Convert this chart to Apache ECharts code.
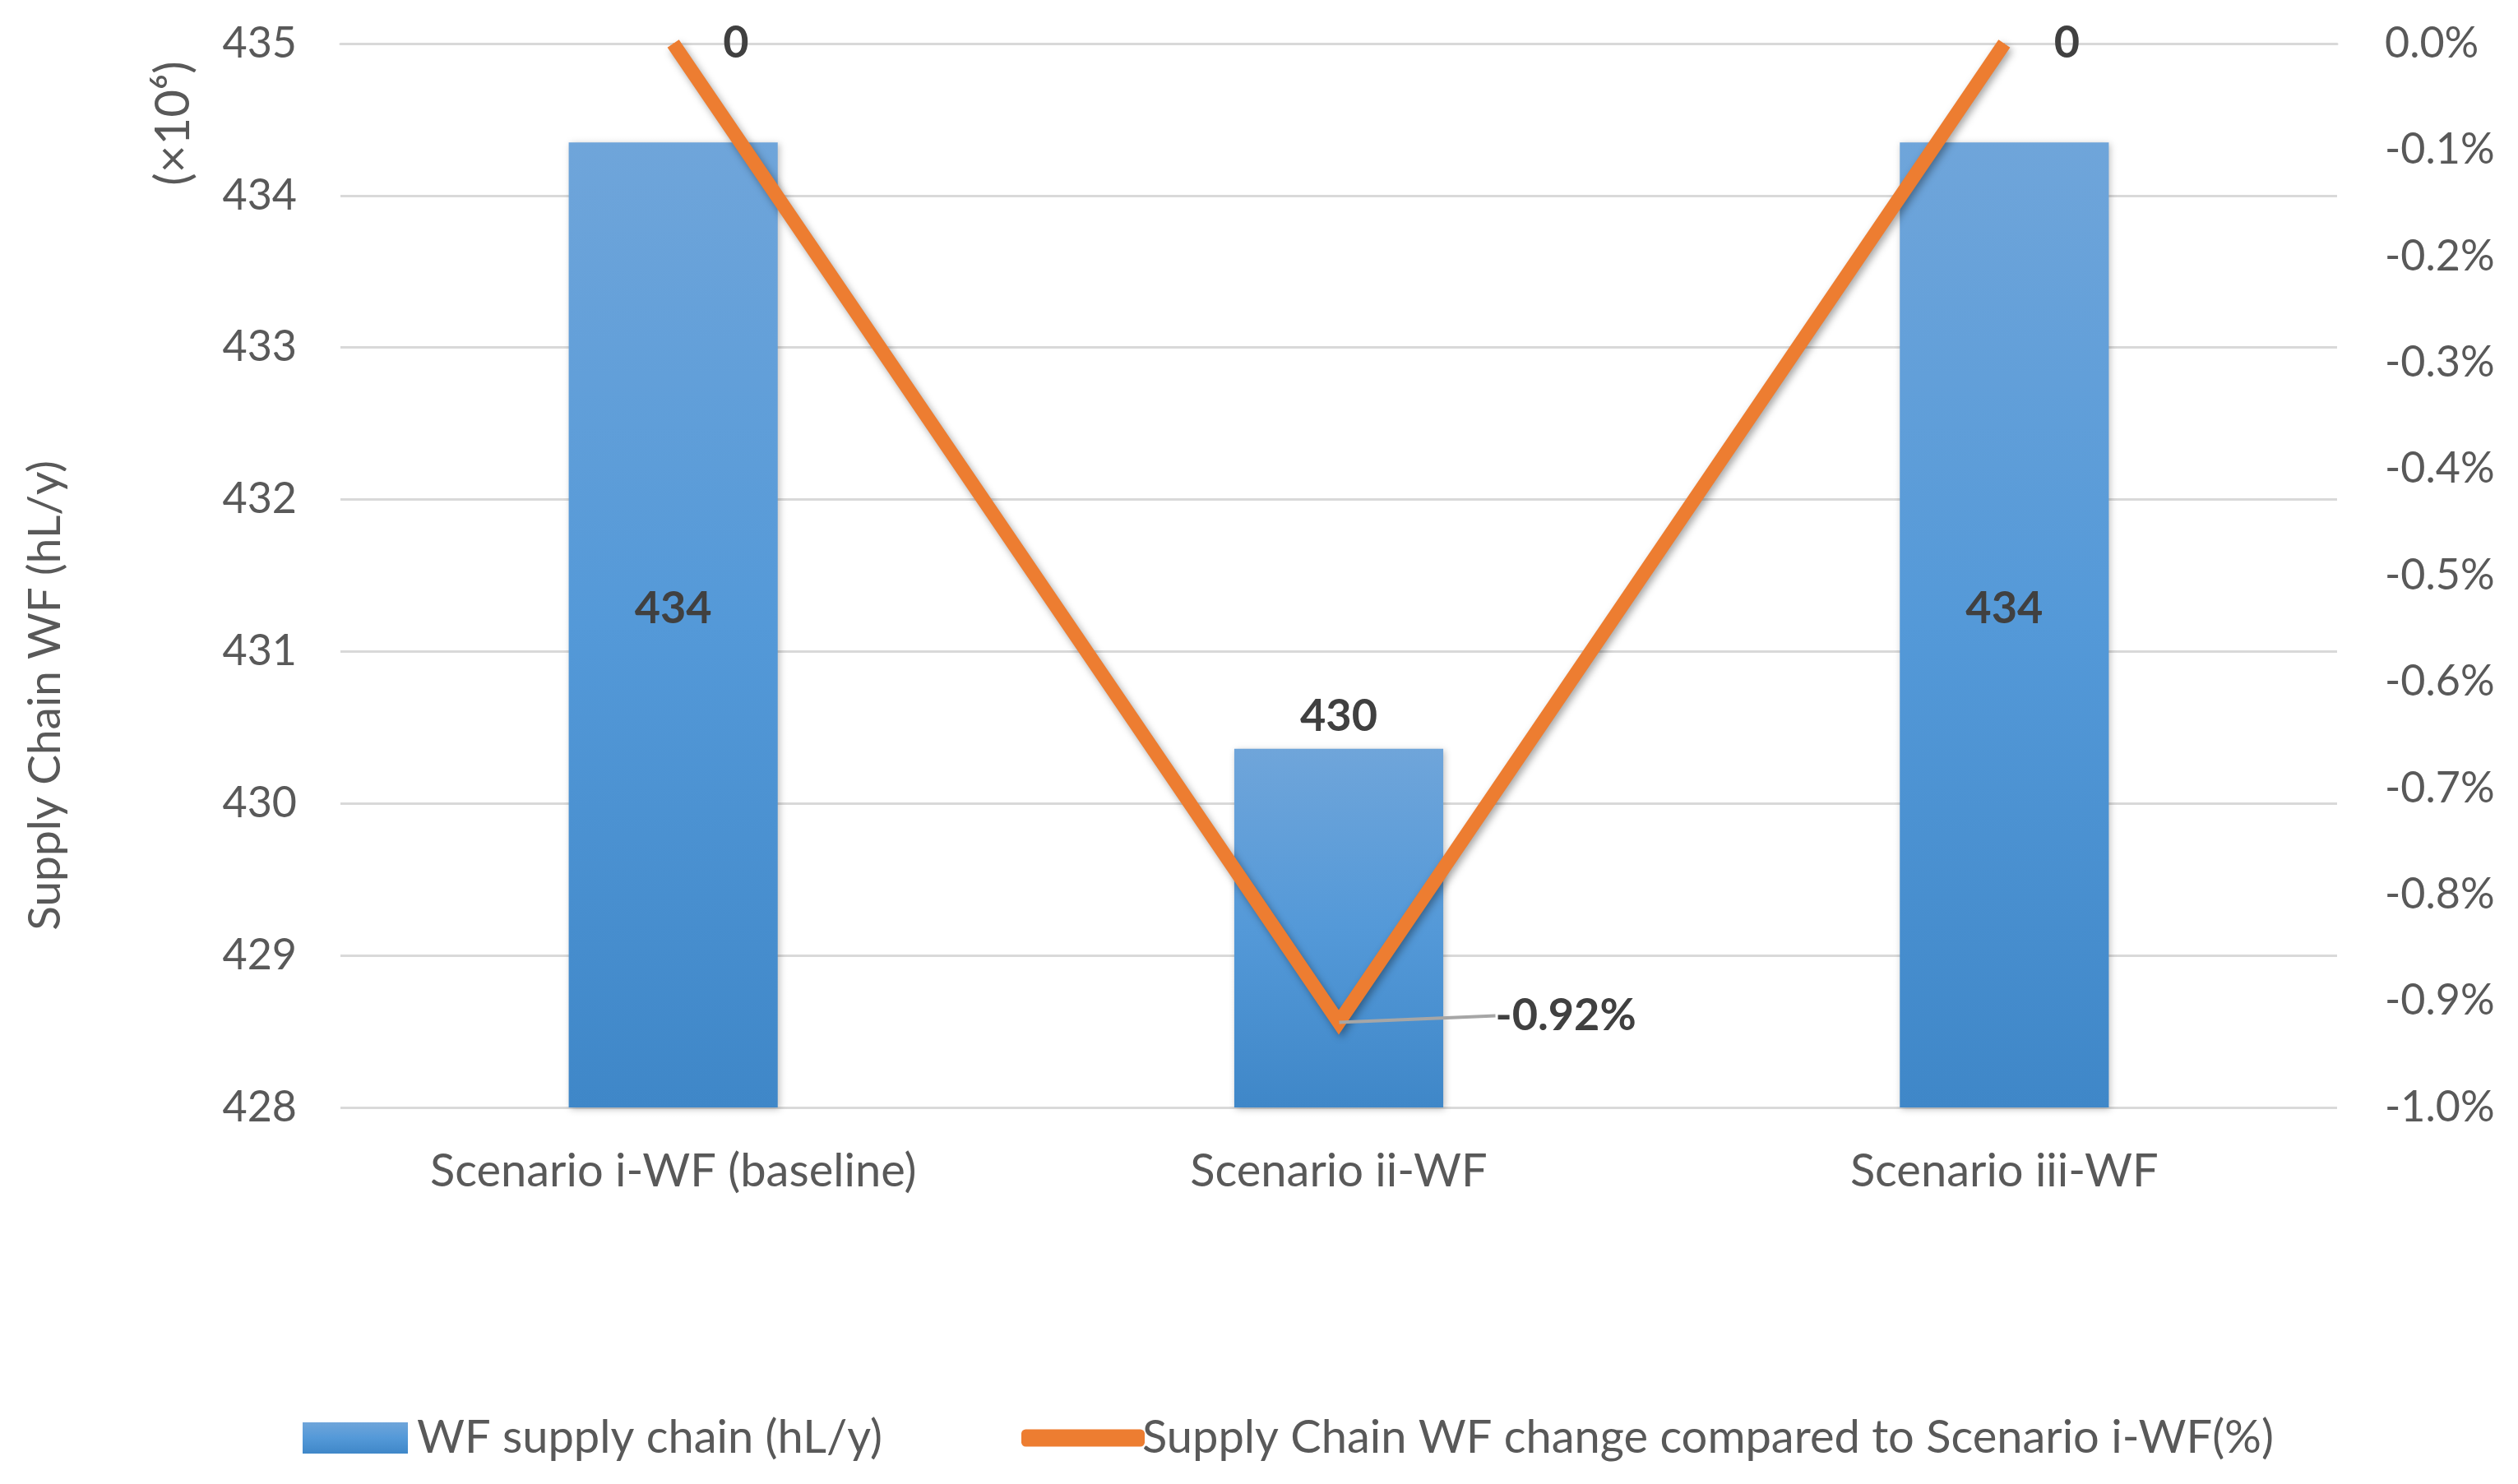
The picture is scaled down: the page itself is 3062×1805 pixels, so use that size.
<!DOCTYPE html>
<html>
<head>
<meta charset="utf-8">
<script src="https://cdn.jsdelivr.net/npm/echarts@6/dist/echarts.min.js"></script>
<style>
html,body{margin:0;padding:0;background:#fff;}
#main{width:3062px;height:1805px;}
</style>
</head>
<body>
<div id="main"></div>
<script>
const categories = ['Scenario i-WF (baseline)', 'Scenario ii-WF', 'Scenario iii-WF'];
const wfSupplyChain = [434.35, 430.36, 434.35];
const wfChangePct = [0, -0.92, 0];
const leftTicks = { min: 428, max: 435, interval: 1 };
const rightTicks = { min: -1.0, max: 0, interval: 0.1 };
const seriesNames = ['WF supply chain (hL/y)', 'Supply Chain WF change compared to Scenario i-WF(%)'];

const FONT = 'Lato';
const TXT = '#595959';
const ORANGE = '#ed7d31';
const chart = echarts.init(document.getElementById('main'), null, { renderer: 'canvas' });

const option = {
  backgroundColor: '#ffffff',
  animation: false,
  textStyle: { fontFamily: FONT },
  grid: { left: 414, right: 220, top: 53, bottom: 458, containLabel: false },
  legend: [
    {
      data: [{ name: seriesNames[0], icon: 'rect' }],
      left: 363, top: 1716,
      itemWidth: 128, itemHeight: 38, itemGap: 20,
      textStyle: { fontFamily: FONT, fontSize: 56, color: TXT, padding: [0, 0, 0, 6] }
    },
    {
      data: [{ name: seriesNames[1], icon: 'roundRect', itemStyle: { color: ORANGE, opacity: 1 } }],
      left: 1237, top: 1716,
      itemWidth: 150, itemHeight: 21,
      textStyle: { fontFamily: FONT, fontSize: 56, color: TXT, padding: [0, 0, 0, -8] }
    }
  ],
  xAxis: {
    type: 'category',
    data: categories,
    axisLine: { show: true, lineStyle: { color: '#d9d9d9', width: 3 } },
    axisTick: { show: false },
    axisLabel: { fontFamily: FONT, fontSize: 56, color: TXT, margin: 50 }
  },
  yAxis: [
    {
      type: 'value',
      min: leftTicks.min, max: leftTicks.max, interval: leftTicks.interval,
      axisLine: { show: false }, axisTick: { show: false },
      axisLabel: { fontFamily: FONT, fontSize: 52, color: TXT, margin: 53 },
      splitLine: { show: true, lineStyle: { color: '#d9d9d9', width: 3 } }
    },
    {
      type: 'value',
      min: rightTicks.min, max: rightTicks.max, interval: rightTicks.interval,
      axisLine: { show: false }, axisTick: { show: false },
      axisLabel: {
        fontFamily: FONT, fontSize: 52, color: TXT, margin: 58,
        formatter: v => (Math.round(v * 10) / 10).toFixed(1) + '%'
      },
      splitLine: { show: false }
    }
  ],
  series: [
    {
      name: seriesNames[0],
      type: 'bar',
      yAxisIndex: 0,
      data: wfSupplyChain.map((v, i) => ({
        value: v,
        label: i === 1 ? { position: 'top', distance: 12 } : { position: 'inside', offset: [0, -20] }
      })),
      barWidth: '31.4%',
      itemStyle: {
        color: new echarts.graphic.LinearGradient(0, 0, 0, 1, [
          { offset: 0, color: '#6fa5da' },
          { offset: 0.5, color: '#5499d8' },
          { offset: 1, color: '#3f87c8' }
        ]),
        shadowColor: 'rgba(0,0,0,0.25)', shadowBlur: 8, shadowOffsetX: 2, shadowOffsetY: 2
      },
      label: {
        show: true, fontFamily: FONT, fontSize: 54, fontWeight: 'bold', color: '#404040',
        formatter: p => Math.round(p.value)
      },
      z: 2
    },
    {
      name: seriesNames[1],
      type: 'line',
      yAxisIndex: 1,
      data: wfChangePct.map((v, i) => ({
        value: v,
        label: i === 1
          ? { position: 'right', distance: 8 }
          : { position: 'right', distance: 60 },
        labelLine: { show: i === 1 }
      })),
      symbol: 'circle', symbolSize: 1,
      itemStyle: { color: ORANGE, borderWidth: 0 },
      lineStyle: {
        color: ORANGE, width: 17, join: 'miter',
        shadowColor: 'rgba(0,0,0,0.35)', shadowBlur: 10, shadowOffsetX: 3, shadowOffsetY: 4
      },
      label: {
        show: true, fontFamily: FONT, fontSize: 54, fontWeight: 'bold', color: '#404040',
        formatter: p => p.value === 0 ? '0' : p.value.toFixed(2) + '%'
      },
      labelLayout: p => p.dataIndex === 1 ? { dx: 182, dy: -8 } : { dy: 0 },
      labelLine: { show: false, lineStyle: { color: '#a6a6a6', width: 4 } },
      clip: false,
      z: 5
    }
  ],
  graphic: [
    {
      type: 'text', x: 55, y: 846, rotation: Math.PI / 2,
      style: {
        text: 'Supply Chain WF (hL/y)', fontFamily: FONT, fontSize: 55, fill: TXT,
        textAlign: 'center', textVerticalAlign: 'middle'
      }
    },
    {
      type: 'text', x: 211, y: 150, rotation: Math.PI / 2,
      style: {
        text: '(×10⁶)', fontFamily: FONT, fontSize: 58, fill: TXT,
        textAlign: 'center', textVerticalAlign: 'middle'
      }
    }
  ]
};
chart.setOption(option);
</script>
</body>
</html>
